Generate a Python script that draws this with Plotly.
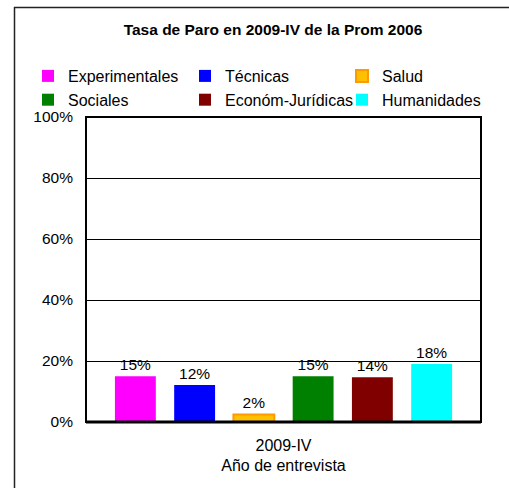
import plotly.graph_objects as go

categories = ["2009-IV"]
series_names = ["Experimentales", "Técnicas", "Salud", "Sociales", "Económ-Jurídicas", "Humanidades"]
series_values = [0.150, 0.121, 0.025, 0.150, 0.147, 0.190]
value_labels = ["15%", "12%", "2%", "15%", "14%", "18%"]
fill_colors = ["#FF00FF", "#0000FF", "#FFC000", "#008000", "#800000", "#00FFFF"]
line_colors = ["#FF00FF", "#0000FF", "#FF9900", "#008000", "#800000", "#00FFFF"]
line_widths = [0, 0, 2, 0, 0, 0]
y_tick_vals = [0, 0.2, 0.4, 0.6, 0.8, 1.0]
y_tick_text = ["0%", "20%", "40%", "60%", "80%", "100%"]

FONT = "Liberation Sans, Arial, sans-serif"

fig = go.Figure()
for name, val, lab, fc, lc, lw in zip(series_names, series_values, value_labels,
                                      fill_colors, line_colors, line_widths):
    fig.add_trace(go.Bar(
        x=categories, y=[val], name=name,
        text=[lab], textposition="outside", cliponaxis=False,
        textfont=dict(family=FONT, size=15.5, color="#000000"),
        marker=dict(color=fc, line=dict(color=lc, width=lw)),
    ))

W, H = 509, 488
L, R, T, B = 86, 28, 117, 66
pw, ph = W - L - R, H - T - B

def px_x(p):
    return (p - L) / pw

def px_y(p):
    return 1 - (p - T) / ph

fig.update_layout(
    width=W, height=H,
    margin=dict(l=L, r=R, t=T, b=B, autoexpand=False),
    paper_bgcolor="white", plot_bgcolor="white",
    font=dict(family=FONT, size=16, color="#000000"),
    barmode="group", bargap=0.1, bargroupgap=0.31,
    title=dict(text="<b>Tasa de Paro en 2009-IV de la Prom 2006</b>",
               x=273 / W, xanchor="center", xref="container",
               y=1 - 30 / H, yanchor="middle", yref="container",
               font=dict(family=FONT, size=15.5, color="#000000")),
    legend=dict(orientation="h", x=px_x(28), xanchor="left",
                y=px_y(59), yanchor="top", entrywidth=112, entrywidthmode="pixels",
                font=dict(family=FONT, size=16, color="#000000"),
                bgcolor="rgba(0,0,0,0)", itemclick=False, traceorder="normal"),
    xaxis=dict(title=dict(text="Año de entrevista", standoff=6,
                          font=dict(family=FONT, size=16)),
               tickfont=dict(family=FONT, size=16), showgrid=False,
               showline=False, ticks="", ticklabelstandoff=12),
    yaxis=dict(range=[0, 1], tickvals=y_tick_vals, ticktext=y_tick_text,
               tickfont=dict(family=FONT, size=15.5), showgrid=True,
               gridcolor="#000000", gridwidth=1, zeroline=False,
               showline=False, ticks="", ticklabelstandoff=12),
    shapes=[
        dict(type="line", xref="paper", yref="paper",
             x0=px_x(14), x1=px_x(520), y0=px_y(7.5), y1=px_y(7.5),
             line=dict(color="#222222", width=1.5)),
        dict(type="line", xref="paper", yref="paper",
             x0=px_x(14.5), x1=px_x(14.5), y0=px_y(500), y1=px_y(7),
             line=dict(color="#222222", width=1.5)),
        dict(type="rect", xref="paper", yref="paper", x0=0, x1=1, y0=0, y1=1,
             line=dict(color="#000000", width=2)),
        dict(type="line", xref="paper", yref="paper", x0=0, x1=1, y0=0, y1=0,
             line=dict(color="#000000", width=3)),
    ],
)

fig.write_html("out.html", config={"displayModeBar": False},
               post_script="document.body.style.margin='0';")
